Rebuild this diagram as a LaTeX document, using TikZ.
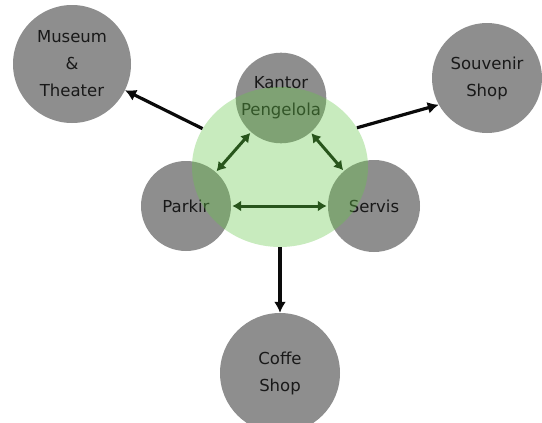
\documentclass[tikz,border=0pt]{standalone}
\usepackage{fontspec}
\setmainfont{DejaVu Sans}
\usetikzlibrary{arrows.meta,shapes.geometric}
\definecolor{circgrey}{RGB}{142,142,142}
\definecolor{zonegreen}{RGB}{100,200,70}
\definecolor{arrgreen}{RGB}{40,85,28}
\definecolor{arrblack}{RGB}{10,10,10}
\tikzset{
  place/.style={circle, fill=circgrey, inner sep=0pt, align=center,
    font=\fontsize{16.5}{27}\selectfont, text=black!90},
  zone/.style={ellipse, fill=zonegreen, fill opacity=0.35, inner sep=0pt, minimum width=176pt, minimum height=160pt},
  outarrow/.style={draw=arrblack, line width=3.2pt, -{Latex[length=11pt,width=12pt]}},
  linkarrow/.style={draw=arrgreen, line width=3pt, {Latex[length=9pt,width=11pt]}-{Latex[length=9pt,width=11pt]}, shorten <=1pt, shorten >=1pt}
}
\begin{document}
\begin{tikzpicture}[x=1pt,y=-1pt]
\useasboundingbox[fill=white] (0,0) rectangle (542,423);
% grey places
\node[place, minimum size=118pt] (museum) at (72,64) {Museum\\\&\\Theater};
\node[place, minimum size=110pt] (souvenir) at (487,78) {Souvenir\\Shop};
\node[place, minimum size=90pt] (kantor) at (281,98) {Kantor\\Pengelola};
\node[place, minimum size=90pt] (parkir) at (186,206) {Parkir};
\node[place, minimum size=92pt] (servis) at (374,206) {Servis};
\node[place, minimum size=120pt] (coffee) at (280,373) {Coffe\\Shop};
% green zone
\node[zone] (green) at (280,167) {};
% outgoing arrows
\draw[outarrow] (green) -- (museum);
\draw[outarrow] (green.27) -- (souvenir.209);
\draw[outarrow] (green.south) -- (coffee.north);
% internal links
\draw[linkarrow] (kantor) -- (parkir);
\draw[linkarrow] (kantor) -- (servis);
\draw[linkarrow] (parkir) -- (servis);
\end{tikzpicture}
\end{document}
